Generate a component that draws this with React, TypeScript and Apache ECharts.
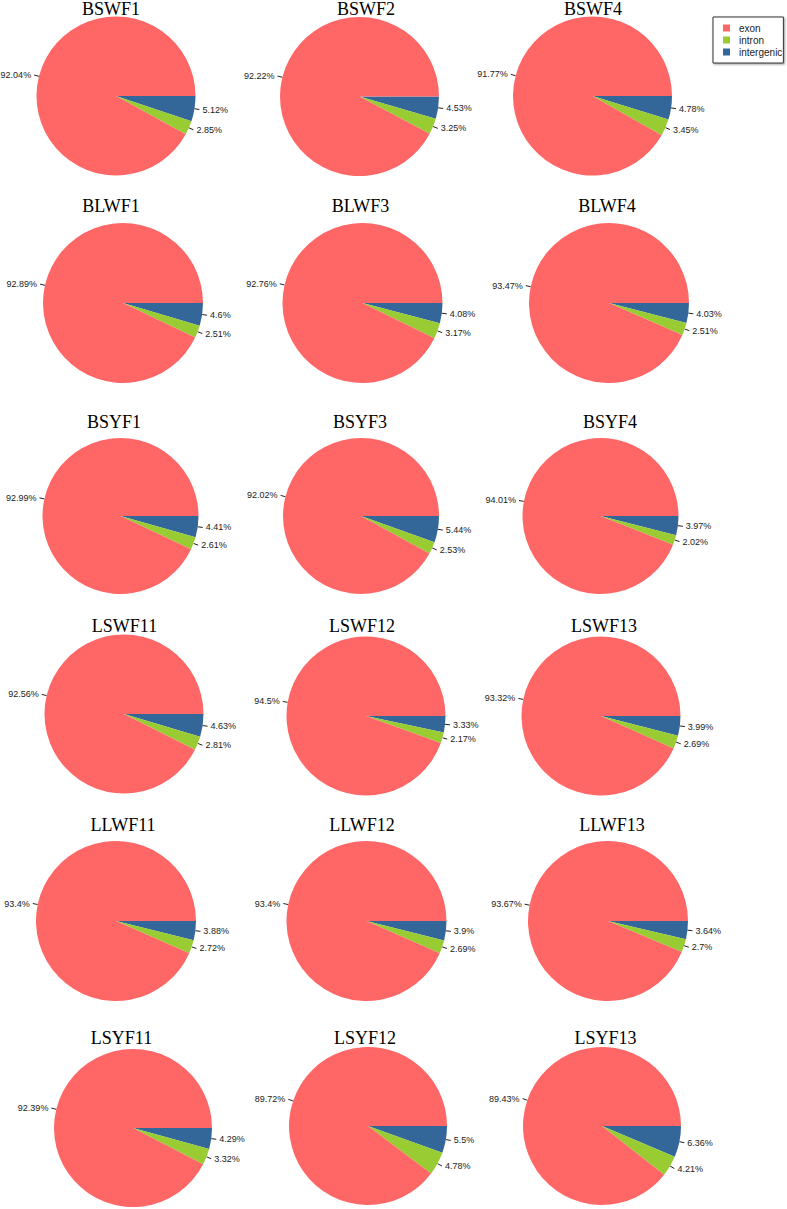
import React, { useEffect, useRef } from "react";
import * as echarts from "echarts";

const samples = [
  "BSWF1", "BSWF2", "BSWF4",
  "BLWF1", "BLWF3", "BLWF4",
  "BSYF1", "BSYF3", "BSYF4",
  "LSWF11", "LSWF12", "LSWF13",
  "LLWF11", "LLWF12", "LLWF13",
  "LSYF11", "LSYF12", "LSYF13",
];
const exon = [
  92.04, 92.22, 91.77,
  92.89, 92.76, 93.47,
  92.99, 92.02, 94.01,
  92.56, 94.5, 93.32,
  93.4, 93.4, 93.67,
  92.39, 89.72, 89.43,
];
const intron = [
  2.85, 3.25, 3.45,
  2.51, 3.17, 2.51,
  2.61, 2.53, 2.02,
  2.81, 2.17, 2.69,
  2.72, 2.69, 2.7,
  3.32, 4.78, 4.21,
];
const intergenic = [
  5.12, 4.53, 4.78,
  4.6, 4.08, 4.03,
  4.41, 5.44, 3.97,
  4.63, 3.33, 3.99,
  3.88, 3.9, 3.64,
  4.29, 5.5, 6.36,
];
const categories = ["exon", "intron", "intergenic"];

// layout (pixels)
const pieCenters: [number, number][] = [
  [116, 96], [359.5, 96.5], [592.5, 96],
  [123, 303], [362.5, 303], [609, 303],
  [120.5, 516], [361, 516], [600.5, 516],
  [124, 714], [366, 716], [601, 716],
  [116, 921], [366.5, 921], [608, 921],
  [133, 1128], [368, 1126], [602, 1126],
];
const titleCenters = [
  111, 366, 593,
  111, 360.5, 607,
  114, 360, 610,
  124.5, 362, 604,
  123, 362, 612,
  121.5, 365, 605.5,
];
const rowBaselines = [15, 212, 428, 632, 831, 1044];
const rowRadius = [79.5, 80, 78, 79.5, 80, 79];

const COLORS: Record<string, string> = {
  exon: "#FF6666",
  intron: "#99CC33",
  intergenic: "#336699",
};

export default function App() {
  const ref = useRef<HTMLDivElement>(null);
  useEffect(() => {
    if (!ref.current) return;
    const chart = echarts.init(ref.current, undefined, { renderer: "svg" });
    const titles = samples.map((s, i) => ({
      text: s,
      left: titleCenters[i],
      top: rowBaselines[Math.floor(i / 3)] - 15,
      textAlign: "center",
      padding: 0,
      textStyle: {
        fontFamily: "Liberation Serif",
        fontWeight: "normal",
        fontSize: 18,
        color: "#000",
      },
    }));
    const series = samples.map((s, i) => ({
      type: "pie",
      name: s,
      center: pieCenters[i],
      radius: rowRadius[Math.floor(i / 3)],
      startAngle: 0,
      clockwise: true,
      avoidLabelOverlap: false,
      silent: true,
      label: {
        show: true,
        position: "outside",
        formatter: "{c}%",
        fontFamily: "Liberation Sans",
        fontSize: 9,
        color: "#1a1a1a",
        distanceToLabelLine: 3,
      },
      labelLine: {
        show: true,
        length: 5,
        length2: 0,
        lineStyle: { color: "#222", width: 1 },
      },
      itemStyle: { borderWidth: 0 },
      data: [
        { name: "intergenic", value: intergenic[i], itemStyle: { color: COLORS.intergenic } },
        { name: "intron", value: intron[i], itemStyle: { color: COLORS.intron } },
        { name: "exon", value: exon[i], itemStyle: { color: COLORS.exon } },
      ],
    }));
    chart.setOption({
      animation: false,
      backgroundColor: "#fff",
      title: titles,
      legend: {
        data: categories,
        orient: "vertical",
        left: 713,
        top: 17,
        icon: "rect",
        itemWidth: 7,
        itemHeight: 7,
        itemGap: 0,
        padding: [5, 1, 5, 10],
        borderColor: "#333",
        borderWidth: 1,
        backgroundColor: "#fff",
        shadowColor: "rgba(0,0,0,0.4)",
        shadowBlur: 2,
        shadowOffsetX: 1,
        shadowOffsetY: 1,
        selectedMode: false,
        textStyle: {
          fontFamily: "Liberation Sans",
          fontSize: 10,
          color: "#222",
          padding: [0, 0, 0, 4],
          lineHeight: 12,
        },
      },
      series,
    });
    return () => chart.dispose();
  }, []);
  return (
    <div
      ref={ref}
      style={{ position: "absolute", left: 0, top: 0, width: 787, height: 1209 }}
    />
  );
}
